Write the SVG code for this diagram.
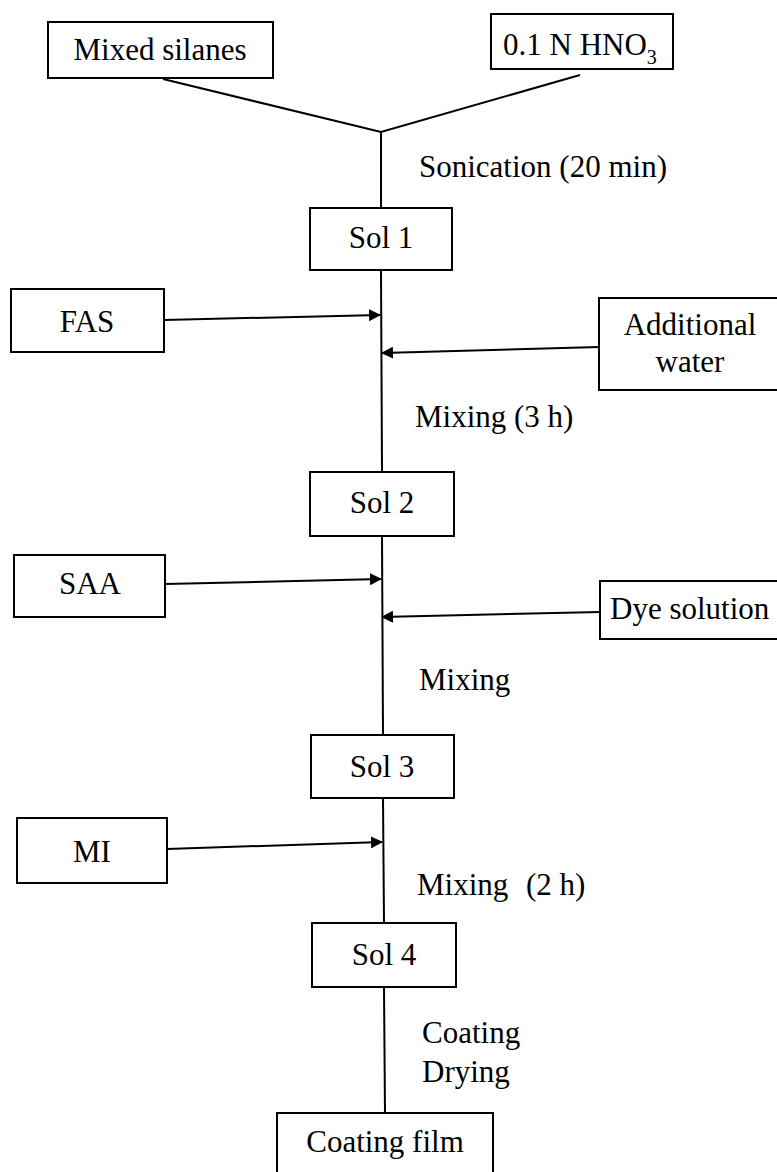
<svg xmlns="http://www.w3.org/2000/svg" width="777" height="1172" viewBox="0 0 777 1172">
<style>
  .box { fill: #fff; stroke: #000; stroke-width: 2; }
  .ln { fill: none; stroke: #000; stroke-width: 2; }
  .t { font-family: "Liberation Serif", "Times New Roman", serif; font-size: 31px; fill: #000; }
  .c { text-anchor: middle; }
</style>
<defs>
  <marker id="ah" viewBox="0 0 12 12" refX="11" refY="6" markerWidth="12" markerHeight="12" markerUnits="userSpaceOnUse" orient="auto">
    <path d="M0,0 L12,6 L0,12 Z" fill="#000"/>
  </marker>
</defs>
<rect width="777" height="1172" fill="#fff"/>
<g id="connectors">
  <polyline class="ln" points="163,79 381,132 580,75"/>
  <line class="ln" x1="381" y1="132" x2="381" y2="208"/>
  <line class="ln" x1="381" y1="270" x2="382" y2="472"/>
  <line class="ln" x1="382" y1="536" x2="383" y2="735"/>
  <line class="ln" x1="383" y1="798" x2="384" y2="923"/>
  <line class="ln" x1="384" y1="987" x2="385" y2="1113"/>
  <line class="ln" x1="164" y1="320" x2="380" y2="315" marker-end="url(#ah)"/>
  <line class="ln" x1="599" y1="347" x2="382" y2="353" marker-end="url(#ah)"/>
  <line class="ln" x1="165" y1="584" x2="381" y2="579" marker-end="url(#ah)"/>
  <line class="ln" x1="600" y1="612" x2="382" y2="617" marker-end="url(#ah)"/>
  <line class="ln" x1="167" y1="849" x2="382" y2="842" marker-end="url(#ah)"/>
</g>
<g id="mixed-silanes">
  <rect class="box" x="48" y="22" width="225" height="56"/>
  <text class="t c" x="160" y="60">Mixed silanes</text>
</g>
<g id="hno3">
  <rect class="box" x="491" y="14" width="182" height="55"/>
  <text class="t" x="503" y="55">0.1 N HNO<tspan font-size="20" dy="9">3</tspan></text>
</g>
<g id="label-sonication">
  <text class="t" x="419" y="177">Sonication (20 min)</text>
</g>
<g id="sol1">
  <rect class="box" x="310" y="208" width="142" height="62"/>
  <text class="t c" x="381" y="248">Sol 1</text>
</g>
<g id="fas">
  <rect class="box" x="11" y="289" width="153" height="63"/>
  <text class="t c" x="87" y="332">FAS</text>
</g>
<g id="additional-water">
  <rect class="box" x="599" y="298" width="190" height="92"/>
  <text class="t c" x="690" y="335">Additional</text>
  <text class="t c" x="690" y="372">water</text>
</g>
<g id="label-mixing-3h">
  <text class="t" x="415" y="427">Mixing (3 h)</text>
</g>
<g id="sol2">
  <rect class="box" x="310" y="472" width="144" height="64"/>
  <text class="t c" x="382" y="513">Sol 2</text>
</g>
<g id="saa">
  <rect class="box" x="14" y="555" width="151" height="62"/>
  <text class="t c" x="90" y="594">SAA</text>
</g>
<g id="dye-solution">
  <rect class="box" x="600" y="581" width="190" height="58"/>
  <text class="t" x="610" y="619">Dye solution</text>
</g>
<g id="label-mixing">
  <text class="t" x="419" y="690">Mixing</text>
</g>
<g id="sol3">
  <rect class="box" x="311" y="735" width="143" height="63"/>
  <text class="t c" x="382" y="777">Sol 3</text>
</g>
<g id="mi">
  <rect class="box" x="17" y="818" width="150" height="65"/>
  <text class="t c" x="92" y="862">MI</text>
</g>
<g id="label-mixing-2h">
  <text class="t" x="417" y="895">Mixing</text>
  <text class="t" x="526" y="895">(2 h)</text>
</g>
<g id="sol4">
  <rect class="box" x="312" y="923" width="144" height="64"/>
  <text class="t c" x="384" y="965">Sol 4</text>
</g>
<g id="label-coating-drying">
  <text class="t" x="422" y="1043">Coating</text>
  <text class="t" x="422" y="1082">Drying</text>
</g>
<g id="coating-film">
  <rect class="box" x="277" y="1113" width="216" height="70"/>
  <text class="t c" x="385" y="1152">Coating film</text>
</g>
</svg>
